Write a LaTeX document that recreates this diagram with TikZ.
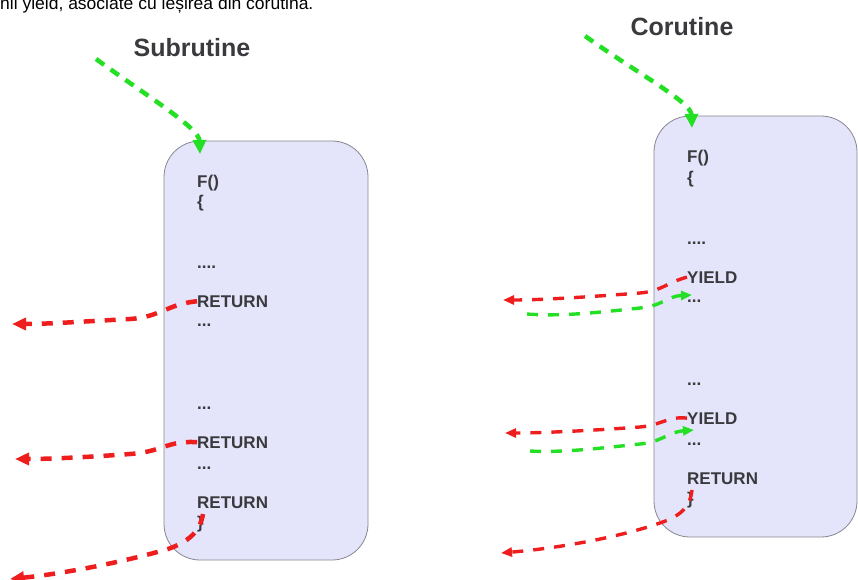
\documentclass[tikz,border=0pt]{standalone}
\usepackage{fontspec}
\setmainfont{Liberation Sans}
\usetikzlibrary{arrows.meta}
\definecolor{boxfill}{RGB}{228,228,250}
\definecolor{boxline}{RGB}{135,135,145}
\definecolor{codegray}{RGB}{58,58,62}
\definecolor{rd}{RGB}{238,30,30}
\definecolor{gr}{RGB}{36,224,36}
\begin{document}
\begin{tikzpicture}[x=1pt,y=-1pt,
  fnbox/.style={draw=boxline, fill=boxfill, rounded corners=36pt, line width=0.8pt, inner sep=0pt},
  code/.style={anchor=base west, inner sep=0pt, font=\fontsize{17}{17}\selectfont\bfseries, text=codegray},
  titletext/.style={inner sep=0pt, font=\fontsize{25}{25}\selectfont\bfseries, text=codegray},
  thickred/.style={draw=rd, line width=4.5pt, dash pattern=on 11pt off 10pt, -{Triangle[length=14pt,width=12pt]}},
  thinred/.style={draw=rd, line width=3.4pt, dash pattern=on 11pt off 10pt, -{Triangle[length=11pt,width=9pt]}},
  thingreen/.style={draw=gr, line width=3.4pt, dash pattern=on 11pt off 10pt, -{Triangle[length=11pt,width=9pt]}},
  thickgreen/.style={draw=gr, line width=4.5pt, dash pattern=on 10pt off 8pt, -{Triangle[length=14pt,width=13pt]}}
]
\useasboundingbox (0,0) rectangle (858,580);

% top (cut) caption
\node[anchor=base west, inner sep=0pt, font=\fontsize{17.5}{17.5}\selectfont, text=black] (caption) at (0,10) {nii yield, asociate cu ieșirea din corutină.};

% titles
\node[titletext] (tSub) at (192,48) {Subrutine};
\node[titletext] (tCor) at (682,27) {Corutine};

% boxes
\node[fnbox, minimum width=204pt, minimum height=419pt] (boxL) at (266,350.5) {};
\node[fnbox, minimum width=203pt, minimum height=421pt] (boxR) at (755.5,326.5) {};

% left code
\node[code] (fL) at (197,187) {F()};
\node[code] (obL) at (197,207) {\{};
\node[code] (d1L) at (197,268) {....};
\node[code] (r1L) at (197,307) {RETURN};
\node[code] (d2L) at (197,326) {...};
\node[code] (d3L) at (197,409) {...};
\node[code] (r2L) at (197,448) {RETURN};
\node[code] (d4L) at (197,469) {...};
\node[code] (r3L) at (197,508) {RETURN};
\node[code] (cbL) at (197,528) {\}};

% right code
\node[code] (fR) at (687,163) {F()};
\node[code] (obR) at (687,183) {\{};
\node[code] (d1R) at (687,244) {....};
\node[code] (y1R) at (687,283) {YIELD};
\node[code] (d2R) at (687,302) {...};
\node[code] (d3R) at (687,385) {...};
\node[code] (y2R) at (687,424) {YIELD};
\node[code] (d4R) at (687,445) {...};
\node[code] (r3R) at (687,484) {RETURN};
\node[code] (cbR) at (687,504) {\}};

% coordinates for free ends
\coordinate (gLs) at (96,59);
\coordinate (gLe) at (200,154);
\coordinate (gRs) at (585,36);
\coordinate (gRe) at (692,128);
\coordinate (rL1e) at (12,324);
\coordinate (rL2e) at (15,459);
\coordinate (rL3s) at (203,514);
\coordinate (rL3e) at (10,579);
\coordinate (rR1e) at (503,300);
\coordinate (gR1s) at (527,314);
\coordinate (gR1e) at (692,295);
\coordinate (rR2e) at (505,433);
\coordinate (gR2s) at (530,451);
\coordinate (gR2e) at (694,430);
\coordinate (rR3s) at (692,490);
\coordinate (rR3e) at (501,553);

% entry arrows
\draw[thickgreen] (gLs) .. controls (150,98) and (199,128) .. (gLe);
\draw[thickgreen] (gRs) .. controls (640,75) and (691,102) .. (gRe);

% left exits
\draw[thickred] (r1L.west) .. controls (168,304) and (160,317) .. (130,319) .. controls (90,321) and (50,324) .. (rL1e);
\draw[thickred] (r2L.west) .. controls (168,440) and (162,452) .. (130,454) .. controls (90,457) and (50,459) .. (rL2e);
\draw[thickred] (rL3s) .. controls (200,532) and (188,542) .. (168,549) .. controls (120,563) and (60,574) .. (rL3e);

% right yields / resumes
\draw[thinred] (y1R.west) .. controls (668,282) and (662,291) .. (640,293) .. controls (600,296) and (545,300) .. (rR1e);
\draw[thingreen] (gR1s) .. controls (565,317) and (610,311) .. (640,308) .. controls (662,306) and (668,296) .. (gR1e);
\draw[thinred] (y2R.west) .. controls (668,416) and (662,425) .. (640,427) .. controls (600,430) and (545,433) .. (rR2e);
\draw[thingreen] (gR2s) .. controls (565,453) and (610,447) .. (640,444) .. controls (662,442) and (668,432) .. (gR2e);
\draw[thinred] (rR3s) .. controls (690,508) and (680,516) .. (660,523) .. controls (620,537) and (560,548) .. (rR3e);
\end{tikzpicture}
\end{document}
